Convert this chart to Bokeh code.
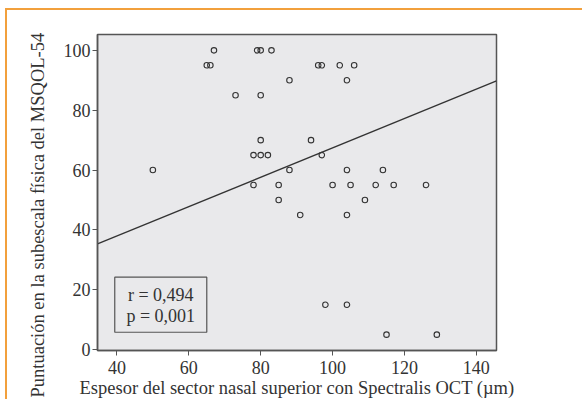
import math
from bokeh.plotting import figure
from bokeh.models import Range1d, Label, BoxAnnotation, FixedTicker, Title
from bokeh.embed import file_html
from bokeh.resources import INLINE

# data
thickness = [67, 79, 80, 83, 65, 66, 96, 97, 102, 106, 88, 104, 73, 80,
             80, 94, 78, 80, 82, 97, 50, 88, 104, 114, 78, 85, 100, 105,
             112, 117, 126, 85, 109, 91, 104, 98, 104, 115, 129]
score = [100, 100, 100, 100, 95, 95, 95, 95, 95, 95, 90, 90, 85, 85,
         70, 70, 65, 65, 65, 65, 60, 60, 60, 60, 55, 55, 55, 55,
         55, 55, 55, 50, 50, 45, 45, 15, 15, 5, 5]
fit_x = [34.6, 145.6]
fit_y = [35.3, 89.8]
x_ticks = [40, 60, 80, 100, 120, 140]
y_ticks = [0, 20, 40, 60, 80, 100]
stats_lines = ["r = 0,494", "p = 0,001"]
x_title = "Espesor del sector nasal superior con Spectralis OCT (µm)"
y_title = "Puntuación en la subescala física del MSQOL-54"

FONT = "Liberation Serif"
AX = "#555555"
TXT = "#333333"
BG = "#e9e9eb"
ORANGE = "#f2a03c"

p = figure(frame_width=399, frame_height=316,
           x_range=Range1d(34.6, 145.6), y_range=Range1d(-0.3, 105.3),
           output_backend="svg", toolbar_location=None,
           min_border_left=90, min_border_right=86,
           min_border_top=24, min_border_bottom=48,
           background_fill_color=BG, border_fill_color="white",
           outline_line_color=AX, outline_line_width=1.5)
p.styles = {"border-top": "2px solid " + ORANGE,
            "border-left": "2px solid " + ORANGE,
            "margin-left": "5px", "margin-top": "8px"}
p.grid.visible = False

for ax in (p.xaxis, p.yaxis):
    ax.axis_line_color = AX
    ax.axis_line_width = 1.5
    ax.major_tick_line_color = AX
    ax.major_tick_out = 5
    ax.major_tick_in = 0
    ax.minor_tick_line_color = None
    ax.major_label_text_font = FONT
    ax.major_label_text_font_size = "18px"
    ax.major_label_text_color = TXT
    ax.major_label_standoff = 2
p.xaxis.major_label_standoff = 5

p.xaxis.ticker = FixedTicker(ticks=x_ticks)
p.yaxis.ticker = FixedTicker(ticks=y_ticks)
p.xaxis.axis_label = x_title
p.xaxis.axis_label_text_font = FONT
p.xaxis.axis_label_text_font_size = "18.5px"
p.xaxis.axis_label_text_font_style = "normal"
p.xaxis.axis_label_text_color = TXT
p.xaxis.axis_label_standoff = 1

ytitle = Title(text=y_title, align="left", offset=-47, standoff=25,
               text_font=FONT, text_font_size="18.5px",
               text_font_style="normal", text_color=TXT)
p.add_layout(ytitle, "left")

p.line(fit_x, fit_y, line_color="#333333", line_width=1.3)
p.scatter(thickness, score, marker="circle", size=5.5, fill_color=None,
          line_color="#333333", line_width=1.1)

p.add_layout(BoxAnnotation(left=39.4, right=65.0, bottom=5.8, top=24.2,
                           fill_color=BG, fill_alpha=1.0,
                           line_color=AX, line_alpha=1.0, line_width=1.2))
for txt, yy in zip(stats_lines, [18.3, 11.1]):
    p.add_layout(Label(x=52.2, y=yy, text=txt, text_align="center",
                       text_baseline="middle", text_font=FONT,
                       text_font_size="18px", text_color=TXT))

open("out.html", "w").write(file_html(p, INLINE))
